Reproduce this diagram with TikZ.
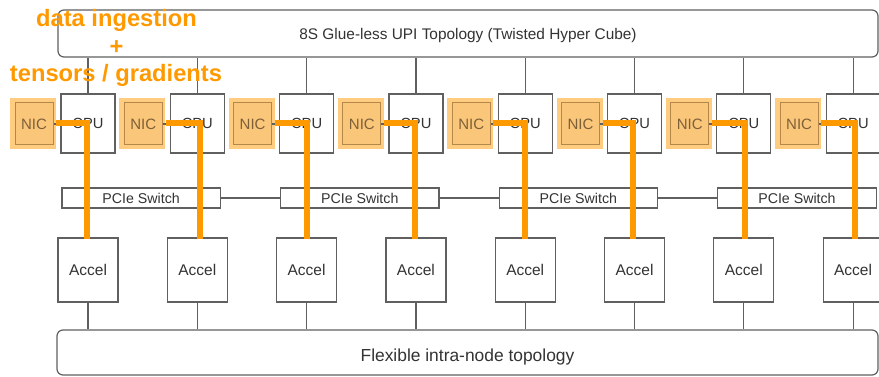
\documentclass[tikz,border=0pt]{standalone}
\usepackage{fontspec}
\setmainfont{Liberation Sans}
\definecolor{hl}{HTML}{FF9900}
\definecolor{linegray}{HTML}{606060}
\definecolor{txtgray}{HTML}{333333}
\definecolor{nicbg}{HTML}{FFCC80}
\definecolor{nicfill}{HTML}{FAC67A}
\definecolor{nicedge}{HTML}{B4874A}
\definecolor{nictext}{HTML}{7E6038}
\begin{document}
\begin{tikzpicture}[x=1pt,y=-1pt,
  box/.style={draw=linegray, line width=1.2pt, fill=white, text=txtgray, inner sep=0pt},
  link/.style={draw=linegray, line width=1.2pt},
  flow/.style={draw=hl, line width=6pt},
  callout/.style={text=hl, font=\bfseries\fontsize{23.7}{28}\selectfont, inner sep=0pt},
]
\useasboundingbox (0,0) rectangle (879,377);
\clip (0,0) rectangle (879,377);

% shared buses
\node[box, rounded corners=6pt, minimum width=820pt, minimum height=47pt,
      font=\fontsize{15.4}{18}\selectfont, text height=13pt, text depth=0pt] (upi) at (468,33.5)
      {8S Glue-less UPI Topology (Twisted Hyper Cube)};
\node[box, rounded corners=6pt, minimum width=821pt, minimum height=45pt,
      font=\fontsize{17.4}{20}\selectfont, text height=17pt, text depth=0pt] (low) at (467.5,352.5)
      {Flexible intra-node topology};

% sockets, NICs and accelerators
\foreach \k in {1,...,8} {
  \pgfmathsetmacro\cx{88+(\k-1)*109.3}
  \node[box, minimum width=54pt, minimum height=59pt,
        font=\fontsize{14.7}{17}\selectfont] (cpu\k) at (\cx,123.5) {CPU};
  \node[fill=nicbg, minimum width=46pt, minimum height=51pt, inner sep=0pt]
        (nicbg\k) at (\cx-55,123.5) {};
  \node[draw=nicedge, fill=nicfill, line width=1pt, minimum width=38pt,
        minimum height=42pt, inner sep=0pt, text=nictext,
        font=\fontsize{15}{18}\selectfont] (nic\k) at (\cx-54,124) {NIC};
  \node[box, minimum width=60pt, minimum height=64pt,
        font=\fontsize{15.5}{18}\selectfont] (acc\k) at (\cx,270) {Accel};
}

% PCIe switches, one per socket pair
\foreach \k in {1,...,4} {
  \pgfmathsetmacro\px{62+(2*\k-2)*109.3+79.15}
  \node[box, minimum width=158.3pt, minimum height=20pt,
        font=\fontsize{14.2}{17}\selectfont] (pcie\k) at (\px,198) {PCIe Switch};
}

% gray links
\foreach \k in {1,...,8} {
  \pgfmathtruncatemacro\p{(\k+1)/2}
  \draw[link] (cpu\k.north) -- (cpu\k.north |- upi.south);
  \draw[link] (cpu\k.south) -- (cpu\k.south |- pcie\p.north);
  \draw[link] (acc\k.north) -- (acc\k.north |- pcie\p.south);
  \draw[link] (acc\k.south) -- (acc\k.south |- low.north);
  \draw[link] (nic\k.east) -- (nic\k.east -| cpu\k.west);
}
\draw[link] (pcie1.east) -- (pcie2.west);
\draw[link] (pcie2.east) -- (pcie3.west);
\draw[link] (pcie3.east) -- (pcie4.west);

% highlighted data paths NIC -> accelerator
\foreach \k/\off in {1/-1,2/3,3/0,4/-1,5/0,6/-2,7/1,8/2} {
  \draw[flow] (nicbg\k.east) -| ([xshift=\off pt,yshift=-2pt]acc\k.north);
}

% callout text
\node[callout, anchor=base] (cap1) at (116.5,27) {data ingestion};
\node[callout] (cap2) at (116.5,48) {+};
\node[callout, anchor=base] (cap3) at (116,82) {tensors / gradients};
\end{tikzpicture}
\end{document}
